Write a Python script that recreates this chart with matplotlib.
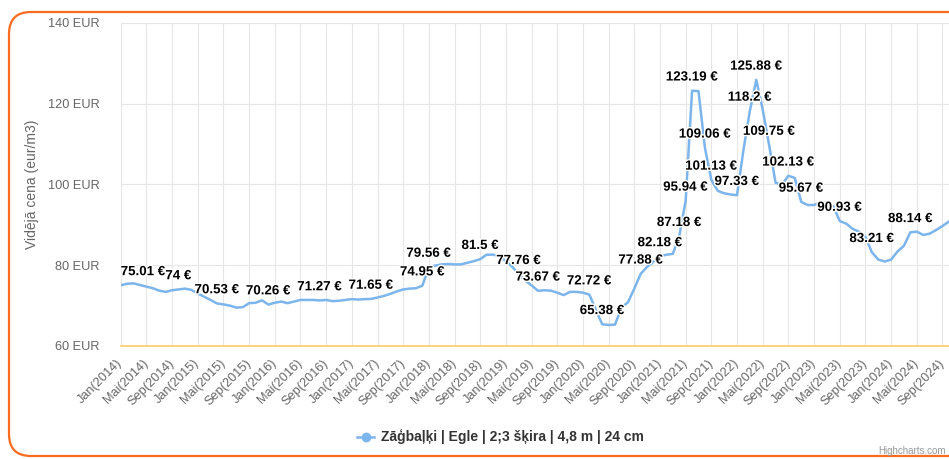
import matplotlib
matplotlib.use("Agg")
import matplotlib.pyplot as plt
from matplotlib.patches import FancyBboxPatch
from matplotlib.lines import Line2D
import matplotlib.patheffects as pe

plt.rcParams['font.family'] = ['Liberation Sans', 'DejaVu Sans']

# monthly average price, Jan 2014 ... Nov 2024 (EUR/m3)
prices = [
    75.01, 75.4, 75.5, 75.1, 74.7, 74.3, 73.7, 73.4, 73.8, 74.0, 74.2, 73.9,   # 2014
    73.0, 72.2, 71.4, 70.53, 70.3, 70.0, 69.5, 69.6, 70.6, 70.7, 71.3, 70.26,  # 2015
    70.7, 71.0, 70.6, 71.0, 71.4, 71.4, 71.4, 71.27, 71.4, 71.1, 71.2, 71.4,   # 2016
    71.6, 71.5, 71.6, 71.65, 72.0, 72.4, 72.9, 73.5, 74.0, 74.2, 74.3, 74.95,  # 2017
    79.56, 79.9, 80.2, 80.3, 80.2, 80.2, 80.6, 81.0, 81.5, 82.6, 82.6, 82.2,   # 2018
    81.0, 79.6, 77.76, 76.2, 75.0, 73.67, 73.8, 73.7, 73.2, 72.6, 73.4, 73.4,  # 2019
    73.2, 72.72, 69.0, 65.38, 65.2, 65.3, 69.5, 70.8, 74.2, 77.88, 79.6, 80.9,  # 2020
    82.18, 82.6, 82.8, 87.18, 95.94, 123.19, 123.1, 109.06, 101.13, 98.4, 97.8, 97.5,  # 2021
    97.33, 108.5, 118.2, 125.88, 118.5, 109.75, 100.4, 100.0, 102.13, 101.6, 95.67, 94.9,  # 2022
    94.9, 95.6, 95.3, 94.6, 90.93, 90.3, 89.0, 88.3, 87.0, 83.21, 81.4, 80.9,  # 2023
    81.4, 83.4, 84.8, 88.14, 88.3, 87.5, 87.8, 88.7, 89.7, 90.8, 91.6,         # 2024
]
# months whose value is written on the chart
labelled = [0, 9, 15, 23, 31, 39, 47, 48, 56, 62, 65, 73, 75, 81, 84, 87, 88,
            89, 91, 92, 96, 98, 99, 101, 104, 106, 112, 117, 123]

years = list(range(2014, 2025))
month_names = ['Jan', 'Mai', 'Sep']
tick_labels = [f"{m}({y})" for y in years for m in month_names]
y_ticks = [60, 80, 100, 120, 140]
series_name = "Zāģbaļķi | Egle | 2;3 šķira | 4,8 m | 24 cm"

W, H = 949, 459
fig = plt.figure(figsize=(W / 100, H / 100), dpi=100)

# orange rounded frame (right side runs off the picture)
frame = FancyBboxPatch((0.09, 0.03), 10.0, 4.44,
                       boxstyle="round,pad=0,rounding_size=0.22",
                       transform=fig.dpi_scale_trans, fill=False,
                       edgecolor='#F96B1E', linewidth=1.6)
fig.patches.append(frame)

left, right, top, bottom = 120.7, 955.3, 22.8, 346
ax = fig.add_axes([left / W, (H - bottom) / H, (right - left) / W, (bottom - top) / H])
ax.set_facecolor('none')

x = list(range(len(prices)))
ax.plot(x, prices, color='#7cb5ec', lw=1.8, solid_joinstyle='round', zorder=3)

ax.set_xlim(0, 130)
ax.set_ylim(60, 140)
ax.set_xticks(range(0, 4 * len(tick_labels), 4))
ax.set_xticklabels(tick_labels, rotation=45, ha='right', va='center',
                   rotation_mode='anchor', color='#666666', fontsize=9.2)
ax.set_yticks(y_ticks)
ax.set_yticklabels([f"{v} EUR" for v in y_ticks], color='#666666', fontsize=9.2)
ax.tick_params(axis='x', length=0, pad=11)
ax.tick_params(axis='y', length=0, pad=15)
ax.grid(True, color='#e6e6e6', lw=0.8)
ax.set_axisbelow(True)
for side in ['top', 'right', 'left']:
    ax.spines[side].set_visible(False)
ax.spines['bottom'].set_color('#FFCC66')
ax.spines['bottom'].set_linewidth(1.2)

outline = [pe.withStroke(linewidth=2, foreground='white')]
for i in labelled:
    v = prices[i]
    ax.annotate(f"{v:g} €", (i, v), xytext=(0, 9.5), textcoords='offset points',
                ha='left' if i == 0 else 'center', va='center',
                fontsize=9.6, fontweight='bold', color='black',
                path_effects=outline, zorder=4, annotation_clip=False)

fig.text(32 / W, (H - 184) / H, "Vidējā cena (eur/m3)", rotation=90,
         ha='center', va='center', color='#666666', fontsize=10)

# legend
leg_y = (H - 437) / H
fig.add_artist(Line2D([357 / W, 374 / W], [leg_y, leg_y], color='#7cb5ec', lw=1.8,
                      transform=fig.transFigure))
fig.add_artist(Line2D([365.5 / W], [leg_y], color='#7cb5ec', marker='o',
                      markersize=6, transform=fig.transFigure))
fig.text(381 / W, leg_y, series_name, ha='left', va='center',
         fontsize=10, fontweight='bold', color='#333333')

fig.text(878 / W, (H - 451) / H, "Highcharts.com", ha='left', va='center',
         fontsize=7, color='#999999')

fig.savefig('out.png', dpi=100)
